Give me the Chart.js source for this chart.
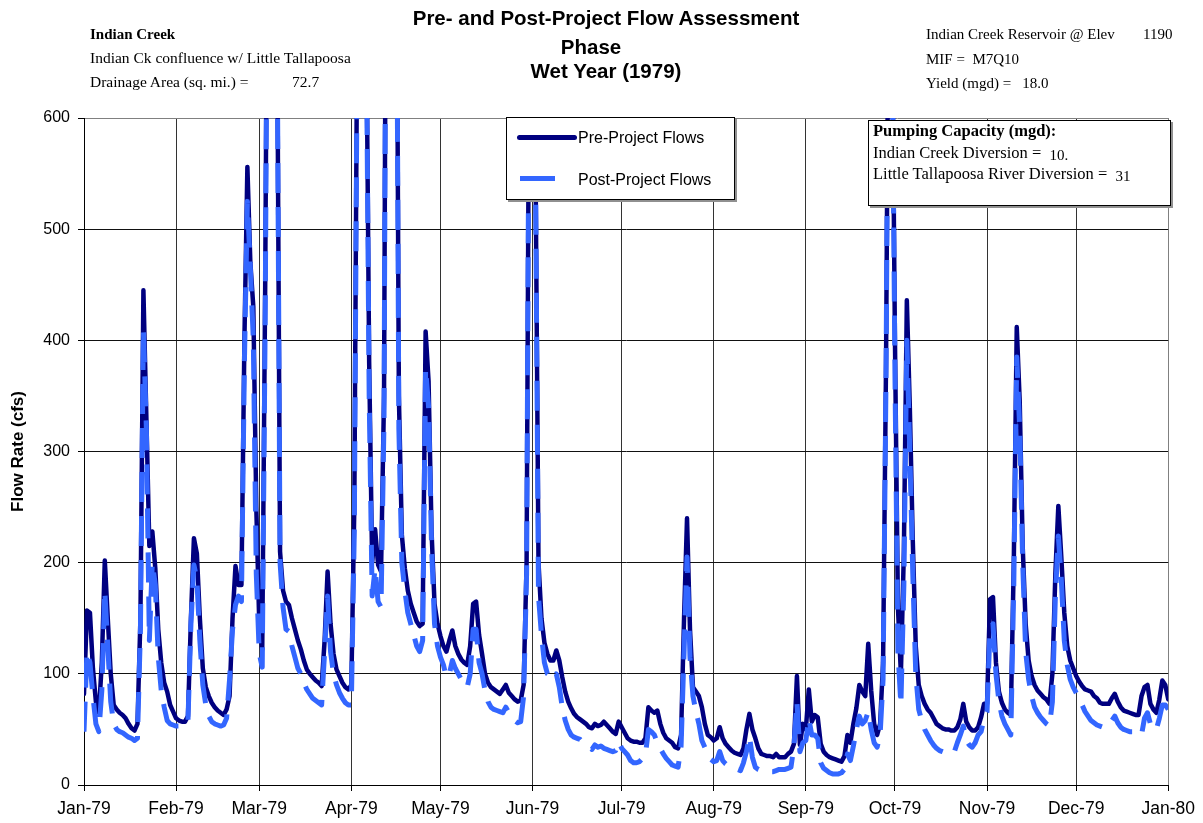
<!DOCTYPE html>
<html>
<head>
<meta charset="utf-8">
<title>Indian Creek - Pre- and Post-Project Flow Assessment</title>
<script src="https://cdn.jsdelivr.net/npm/chart.js@4.4.1/dist/chart.umd.min.js"></script>
<style>
  body { margin: 0; background: #fff; }
  #wrap { position: relative; width: 1203px; height: 823px; overflow: hidden; }
  #graficoFlujo { position: absolute; left: 0; top: 0; }
  .txt { position: absolute; white-space: pre; line-height: 1; color: #000; }
  .serif { font-family: "Liberation Serif", "Times New Roman", serif; font-size: 15px; }
  .sans { font-family: "Liberation Sans", Arial, sans-serif; font-size: 16px; }
  .ttl { font-family: "Liberation Sans", Arial, sans-serif; font-weight: bold; font-size: 20.5px; transform: translateX(-50%); }
  .box { position: absolute; background: #fff; border: 1px solid #000; box-shadow: 2px 2px 0 #909090; }
</style>
</head>
<body>
<div id="wrap">
  <canvas id="graficoFlujo" width="1203" height="823"></canvas>

  <!-- cabecera -->
  <div class="txt serif" style="left:90px; top:27px; font-weight:bold;">Indian Creek</div>
  <div class="txt serif" style="left:90px; top:50px; font-size:15.5px;">Indian Ck confluence w/ Little Tallapoosa</div>
  <div class="txt serif" style="left:90px; top:74px; font-size:15.5px;">Drainage Area (sq. mi.) =</div>
  <div class="txt serif" style="left:292px; top:74px; font-size:15.5px;">72.7</div>

  <div class="txt ttl" style="left:606px; top:8px;">Pre- and Post-Project Flow Assessment</div>
  <div class="txt ttl" style="left:591px; top:37px;">Phase</div>
  <div class="txt ttl" style="left:606px; top:61px;">Wet Year (1979)</div>

  <div class="txt serif" style="left:926px; top:27px;">Indian Creek Reservoir @ Elev</div>
  <div class="txt serif" style="left:1143px; top:27px;">1190</div>
  <div class="txt serif" style="left:926px; top:52px;">MIF =  M7Q10</div>
  <div class="txt serif" style="left:926px; top:76px;">Yield (mgd) =   18.0</div>

  <!-- leyenda -->
  <div class="box" style="left:506px; top:117px; width:227px; height:81px;"></div>
  <div style="position:absolute; left:517px; top:135px; width:60px; height:5px; border-radius:3px; background:#000080;"></div>
  <div style="position:absolute; left:520px; top:176px; width:35px; height:5px; background:#3366ff;"></div>
  <div class="txt sans" style="left:578px; top:130px;">Pre-Project Flows</div>
  <div class="txt sans" style="left:578px; top:172px;">Post-Project Flows</div>

  <!-- capacidad de bombeo -->
  <div class="box" style="left:868px; top:120px; width:301px; height:84px;"></div>
  <div class="txt serif" style="left:873px; top:123px; font-size:16.5px; font-weight:bold;">Pumping Capacity (mgd):</div>
  <div class="txt serif" style="left:873px; top:145px; font-size:16.5px;">Indian Creek Diversion =  <span style="font-size:15px; position:relative; top:2px;">10.</span></div>
  <div class="txt serif" style="left:873px; top:166px; font-size:16.5px;">Little Tallapoosa River Diversion =  <span style="font-size:15px; position:relative; top:2px;">31</span></div>
</div>

<script>
// Eje X: dias desde el 1 de enero de 1979
const monthStartDays = [0, 31, 59, 90, 120, 151, 181, 212, 243, 273, 304, 334, 365];
const monthLabels = ['Jan-79', 'Feb-79', 'Mar-79', 'Apr-79', 'May-79', 'Jun-79', 'Jul-79',
                     'Aug-79', 'Sep-79', 'Oct-79', 'Nov-79', 'Dec-79', 'Jan-80'];
const yTicks = [0, 100, 200, 300, 400, 500, 600];

// Caudal diario (cfs) sin proyecto
const preFlows = [
  82, 157, 155, 105, 75, 65, 110, 202, 150, 100, 72, 68, 65, 63, 60, 55, 51, 49, 55, 150, 445, 330, 215, 228, 195, 140, 110, 92, 84, 72, 66, // ene
  60, 58, 57, 57, 62, 150, 222, 208, 150, 105, 88, 80, 74, 70, 67, 65, 63, 68, 80, 150, 197, 180, 180, 400, 556, 470, 430, 250, // feb
  145, 122, 450, 900, 1100, 900, 700, 210, 175, 165, 162, 150, 140, 130, 122, 112, 104, 100, 97, 94, 92, 89, 130, 192, 145, 118, 104, 98, 92, 88, 86, // mar
  90, 250, 700, 1100, 1000, 700, 380, 200, 230, 198, 192, 350, 1000, 1200, 1100, 900, 350, 225, 195, 175, 163, 155, 147, 143, 145, 408, 363, 228, 163, 145, // abr
  134, 125, 120, 130, 139, 125, 118, 113, 110, 108, 125, 163, 165, 135, 118, 100, 92, 88, 86, 84, 82, 86, 90, 83, 80, 77, 75, 76, 90, 200, 750, // may
  950, 560, 200, 150, 128, 118, 112, 112, 121, 112, 97, 84, 75, 69, 64, 61, 59, 57, 55, 52, 51, 55, 53, 54, 57, 54, 51, 48, 46, 57, // jun
  52, 47, 42, 40, 39, 39, 38, 38, 42, 70, 67, 65, 67, 55, 47, 42, 40, 38, 34, 33, 45, 150, 240, 140, 88, 84, 80, 70, 55, 45, 43, // jul
  40, 42, 52, 42, 37, 34, 31, 29, 28, 27, 33, 50, 64, 50, 42, 33, 28, 27, 26, 26, 25, 28, 25, 25, 25, 28, 30, 37, 98, 36, 55, // ago
  50, 86, 57, 63, 61, 37, 30, 27, 25, 24, 23, 22, 21, 26, 45, 38, 55, 69, 90, 84, 80, 127, 85, 55, 45, 55, 110, 380, 800, 700, // sep
  400, 160, 100, 210, 436, 340, 220, 125, 90, 80, 73, 68, 65, 60, 55, 53, 51, 50, 50, 49, 49, 52, 59, 73, 57, 52, 49, 49, 52, 61, 73, // oct
  73, 167, 169, 110, 84, 74, 68, 65, 63, 200, 412, 345, 215, 145, 112, 98, 90, 85, 82, 79, 77, 73, 100, 190, 251, 205, 155, 125, 112, 105, // nov
  98, 93, 89, 86, 85, 84, 80, 78, 74, 73, 73, 73, 78, 82, 75, 70, 67, 66, 65, 64, 63, 63, 80, 88, 90, 73, 68, 65, 77, 94, 90, // dic
  77
];

// Caudal diario (cfs) con proyecto
const postFlows = [
  48, 120, 110, 80, 55, 48, 85, 175, 125, 75, 55, 50, 48, 47, 45, 43, 42, 40, 42, 140, 410, 320, 130, 200, 180, 115, 85, 70, 58, 55, 54, // ene
  53, 53, 52, 53, 58, 145, 198, 185, 130, 90, 72, 62, 57, 55, 54, 53, 54, 60, 95, 140, 162, 170, 165, 380, 525, 465, 400, 190, // feb
  118, 106, 420, 880, 1100, 900, 690, 200, 160, 140, 138, 125, 115, 105, 100, 92, 86, 82, 78, 76, 74, 72, 120, 170, 120, 100, 90, 83, 78, 74, 72, // mar
  72, 230, 680, 1100, 1000, 690, 350, 170, 195, 165, 160, 330, 1000, 1200, 1100, 890, 320, 200, 175, 155, 145, 135, 125, 120, 130, 375, 340, 215, 145, 125, // abr
  115, 108, 97, 100, 112, 105, 100, 95, 90, 88, 100, 140, 140, 110, 100, 85, 75, 70, 68, 67, 66, 65, 70, 65, 60, 58, 56, 57, 80, 190, 740, // may
  940, 550, 170, 135, 110, 100, 98, 95, 100, 88, 70, 58, 50, 45, 43, 42, 41, 38, 36, 34, 32, 36, 34, 35, 33, 32, 31, 30, 31, 39, // jun
  33, 30, 27, 22, 20, 20, 21, 24, 27, 50, 48, 45, 38, 33, 28, 24, 21, 18, 17, 16, 35, 120, 205, 115, 80, 66, 55, 40, 34, 27, 23, // jul
  21, 22, 30, 22, 19, 17, 15, 14, 14, 13, 20, 30, 44, 25, 16, 14, 13, 13, 13, 12, 12, 13, 14, 14, 14, 15, 16, 35, 75, 30, 38, // ago
  40, 60, 45, 45, 42, 20, 15, 13, 11, 10, 10, 10, 11, 14, 28, 22, 35, 50, 62, 55, 58, 66, 50, 38, 34, 45, 95, 370, 790, 690, // sep
  370, 120, 72, 180, 400, 300, 190, 100, 68, 58, 50, 45, 40, 36, 33, 31, 30, 29, 28, 28, 30, 38, 45, 53, 40, 36, 34, 38, 45, 48, 60, // oct
  66, 140, 145, 100, 75, 62, 55, 50, 45, 180, 385, 320, 200, 120, 95, 80, 70, 65, 61, 58, 55, 53, 75, 170, 224, 185, 130, 108, 95, 88, // nov
  83, 78, 72, 66, 62, 58, 56, 54, 53, 52, 52, 53, 58, 62, 56, 52, 50, 49, 48, 48, 47, 47, 45, 60, 65, 55, 50, 50, 60, 72, 72, // dic
  68
];

const dayNumbers = Array.from({ length: preFlows.length }, (_, i) => i);

Chart.defaults.font.family = '"Liberation Sans", Arial, sans-serif';
Chart.defaults.color = '#000';

const ctx = document.getElementById('graficoFlujo');
new Chart(ctx, {
  type: 'line',
  data: {
    datasets: [
      {
        label: 'Pre-Project Flows',
        data: preFlows.map((v, i) => ({ x: dayNumbers[i], y: v })),
        borderColor: '#000080',
        borderWidth: 4.5,
        borderJoinStyle: 'round',
        borderCapStyle: 'round',
        pointRadius: 0,
        clip: 0,
        order: 2
      },
      {
        label: 'Post-Project Flows',
        data: postFlows.map((v, i) => ({ x: dayNumbers[i], y: v })),
        borderColor: '#3366ff',
        borderWidth: 5,
        borderDash: [30, 14],
        borderJoinStyle: 'round',
        pointRadius: 0,
        clip: 0,
        order: 1 // se dibuja encima
      }
    ]
  },
  options: {
    responsive: false,
    animation: false,
    events: [],
    layout: { padding: { top: 118, right: 33, left: 0, bottom: 0 } },
    plugins: {
      legend: { display: false },
      tooltip: { enabled: false }
    },
    scales: {
      x: {
        type: 'linear',
        min: 0,
        max: 365,
        afterBuildTicks: axis => { axis.ticks = monthStartDays.map(v => ({ value: v })); },
        afterFit: scale => { scale.height = 38; },
        ticks: {
          autoSkip: false,
          maxRotation: 0,
          padding: 8,
          font: { size: 17.5 },
          callback: value => monthLabels[monthStartDays.indexOf(value)]
        },
        grid: {
          color: c => (c.tick && c.tick.value === 365 ? '#808080' : '#333'),
          lineWidth: 1,
          tickLength: 6,
          tickColor: '#000'
        },
        border: { color: '#000', width: 1 }
      },
      y: {
        min: 0,
        max: 600,
        afterBuildTicks: axis => { axis.ticks = yTicks.map(v => ({ value: v })); },
        afterFit: scale => { scale.width = 84; },
        ticks: { padding: 8, font: { size: 16 } },
        grid: {
          color: c => (c.tick && c.tick.value === 600 ? '#808080' : '#111'),
          lineWidth: 1,
          tickLength: 6,
          tickColor: '#000'
        },
        border: { color: '#000', width: 1 },
        title: {
          display: true,
          text: 'Flow Rate (cfs)',
          font: { size: 17, weight: 'bold' },
          padding: { top: 8, bottom: 0 }
        }
      }
    }
  }
});
</script>
</body>
</html>
